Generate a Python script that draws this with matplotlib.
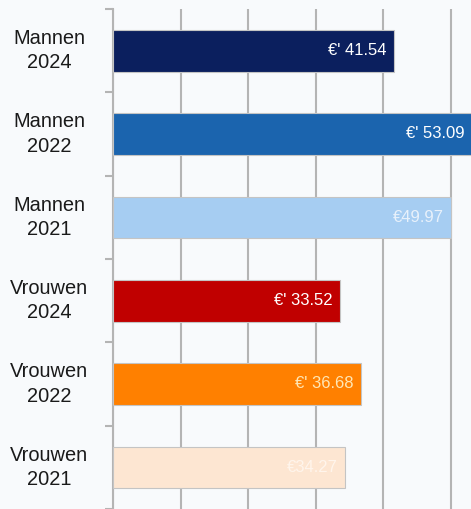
import matplotlib
matplotlib.use("Agg")
from matplotlib import pyplot as plt
from matplotlib.transforms import blended_transform_factory, offset_copy

categories = ["Mannen\n2024", "Mannen\n2022", "Mannen\n2021",
              "Vrouwen\n2024", "Vrouwen\n2022", "Vrouwen\n2021"]
values = [41.54, 53.09, 49.97, 33.52, 36.68, 34.27]
value_labels = ["€' 41.54", "€' 53.09", "€49.97", "€' 33.52", "€' 36.68", "€34.27"]
bar_colors = ["#0b1f5e", "#1b64ae", "#a6cdf2", "#c00000", "#ff8000", "#fde6d2"]
label_colors = ["#ffffff", "#ffffff", "#e8f1fb", "#ffffff", "#ffe7b5", "#fff5ec"]

plt.rcParams['font.family'] = ['Liberation Sans', 'DejaVu Sans']

fig = plt.figure(figsize=(4.71, 5.09), dpi=100, facecolor="#f8fafc")
ax = fig.add_axes([113 / 471, 0, 1 - 113 / 471, 500 / 509])
ax.set_facecolor("none")

y = list(range(len(categories)))
ax.barh(y, values, height=0.5, color=bar_colors, edgecolor="#c4c4c4", linewidth=0.8, zorder=3)

ax.set_xlim(0, 52.96)
ax.set_ylim(len(categories) - 0.5, -0.5)

# vertical gridlines every 10
ax.set_xticks([0, 10, 20, 30, 40, 50])
ax.xaxis.grid(True, color="#b4b4b4", linewidth=1.5)
ax.tick_params(axis="x", length=0, labelbottom=False)

# category separators as small ticks on the left
ax.set_yticks([i - 0.5 for i in range(len(categories) + 1)])
ax.tick_params(axis="y", length=6, width=1.5, color="#b4b4b4", labelleft=False)

for side in ["top", "right", "bottom"]:
    ax.spines[side].set_visible(False)
ax.spines["left"].set_color("#b4b4b4")
ax.spines["left"].set_linewidth(1.5)

# category labels centred left of axis
trans = blended_transform_factory(fig.transFigure, ax.transData)
for i, cat in enumerate(categories):
    ax.text(49 / 471, i, cat, transform=trans, ha="center", va="center",
            fontsize=14.4, color="#1a1a1a", linespacing=1.35)

# value labels inside bar ends
off = offset_copy(ax.transData, fig=fig, x=-7, y=0, units="dots")
for i, (v, lab, c) in enumerate(zip(values, value_labels, label_colors)):
    ax.text(v, i, lab, transform=off, ha="right", va="center",
            fontsize=12, color=c, zorder=4, clip_on=False)

fig.savefig("out.png", dpi=100, facecolor=fig.get_facecolor())
